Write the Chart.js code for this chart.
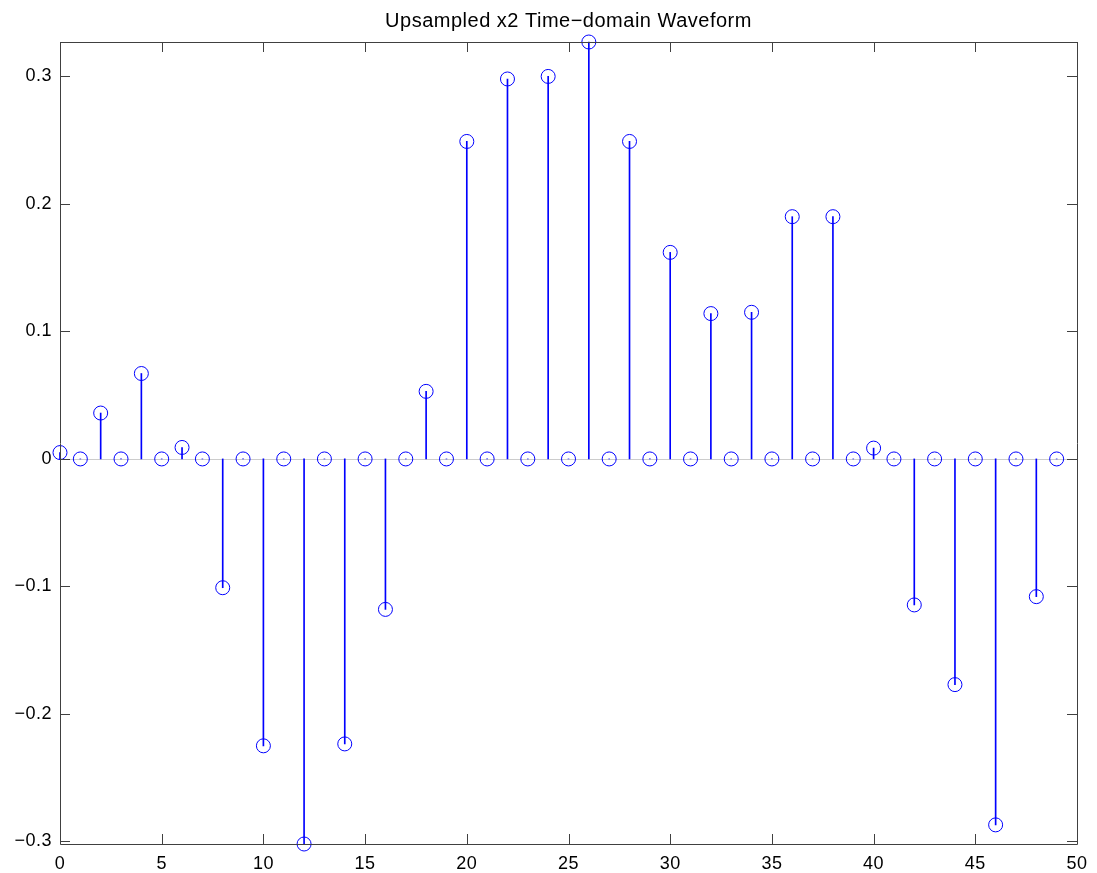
<!DOCTYPE html>
<html>
<head>
<meta charset="utf-8">
<script src="https://cdn.jsdelivr.net/npm/chart.js@4"></script>
<style>
  html, body { margin: 0; padding: 0; background: #fff; }
  #wrap { width: 1097px; height: 873px; }
</style>
</head>
<body>
<div id="wrap"><canvas id="myChart" width="1097" height="873"></canvas></div>
<script>
// sample index n = 0..49
const samples = [
    0.005, 0, 0.036, 0, 0.067, 0, 0.009, 0, -0.101, 0,
    -0.225, 0, -0.302, 0, -0.2235, 0, -0.118, 0, 0.053, 0,
    0.249, 0, 0.298, 0, 0.300, 0, 0.327, 0, 0.249, 0,
    0.162, 0, 0.114, 0, 0.115, 0, 0.190, 0, 0.190, 0,
    0.0085, 0, -0.1145, 0, -0.177, 0, -0.287, 0, -0.108, 0
];
const xTicks = [0, 5, 10, 15, 20, 25, 30, 35, 40, 45, 50];
const yTicks = [-0.3, -0.2, -0.1, 0, 0.1, 0.2, 0.3];
const yMin = -0.302;
const yMax = 0.327;
const title = 'Upsampled x2 Time\u2212domain Waveform';

const points = samples.map((v, i) => ({ x: i, y: v }));
const family = '"Liberation Sans", Arial, Helvetica, sans-serif';
const tickFont = { family: family, size: 18 };

// box + inward tick marks on all four sides, grey zero baseline, title over the plot area
const boxPlugin = {
    id: 'box',
    beforeDraw(chart) {
        // the reference text is set a little loose
        chart.ctx.letterSpacing = '0.5px';
    },
    beforeDatasetsDraw(chart) {
        const { ctx, chartArea: a, scales } = chart;
        const y0 = Math.round(scales.y.getPixelForValue(0)) + 0.5;
        ctx.save();
        ctx.strokeStyle = '#cccccc';
        ctx.lineWidth = 1;
        ctx.beginPath();
        ctx.moveTo(a.left, y0);
        ctx.lineTo(a.right, y0);
        ctx.stroke();
        ctx.restore();
    },
    afterDraw(chart) {
        const { ctx, chartArea: a, scales } = chart;
        const len = 10;
        ctx.save();
        ctx.strokeStyle = '#404040';
        ctx.lineWidth = 1;
        ctx.beginPath();
        ctx.rect(Math.round(a.left) + 0.5, Math.round(a.top) + 0.5,
                 Math.round(a.right - a.left), Math.round(a.bottom - a.top));
        xTicks.forEach(t => {
            const px = Math.round(scales.x.getPixelForValue(t)) + 0.5;
            ctx.moveTo(px, a.bottom); ctx.lineTo(px, a.bottom - len);
            ctx.moveTo(px, a.top); ctx.lineTo(px, a.top + len);
        });
        yTicks.forEach(t => {
            const py = Math.round(scales.y.getPixelForValue(t)) + 0.5;
            ctx.moveTo(a.left, py); ctx.lineTo(a.left + len, py);
            ctx.moveTo(a.right, py); ctx.lineTo(a.right - len, py);
        });
        ctx.stroke();

        ctx.letterSpacing = '0.5px';
        ctx.fillStyle = '#000';
        ctx.font = '20px ' + family;
        ctx.textAlign = 'center';
        ctx.textBaseline = 'alphabetic';
        ctx.fillText(title, (a.left + a.right) / 2, 27);
        ctx.restore();
    }
};

const ctx = document.getElementById('myChart').getContext('2d');
const chart = new Chart(ctx, {
    type: 'bar',
    data: {
        datasets: [{
            // stems
            type: 'bar',
            data: points,
            backgroundColor: '#0000ff',
            barThickness: 1,
            grouped: false,
            clip: false,
            order: 2
        }, {
            // circle markers
            type: 'scatter',
            data: points,
            pointStyle: 'circle',
            pointRadius: 7,
            pointHoverRadius: 7,
            borderColor: '#0000ff',
            backgroundColor: 'rgba(0,0,0,0)',
            borderWidth: 1,
            clip: false,
            order: 1
        }]
    },
    options: {
        responsive: false,
        animation: false,
        events: [],
        layout: { padding: { top: 42, right: 20, left: 0, bottom: 0 } },
        plugins: {
            legend: { display: false },
            tooltip: { enabled: false },
            title: { display: false }
        },
        scales: {
            x: {
                type: 'linear',
                min: 0,
                max: 50,
                offset: false,
                grid: { display: false, drawTicks: false },
                border: { display: false },
                afterBuildTicks: s => { s.ticks = xTicks.map(v => ({ value: v })); },
                afterFit: s => { s.height = 29; },
                ticks: { color: '#000', font: tickFont, padding: 9, maxRotation: 0, autoSkip: false }
            },
            y: {
                type: 'linear',
                min: yMin,
                max: yMax,
                grid: { display: false, drawTicks: false },
                border: { display: false },
                afterBuildTicks: s => { s.ticks = yTicks.map(v => ({ value: v })); },
                afterFit: s => { s.width = 60; },
                ticks: {
                    color: '#000',
                    font: tickFont,
                    padding: 8,
                    callback: v => v === 0 ? '0' : v.toFixed(1).replace('-', '\u2212')
                }
            }
        }
    },
    plugins: [boxPlugin]
});
</script>
</body>
</html>
